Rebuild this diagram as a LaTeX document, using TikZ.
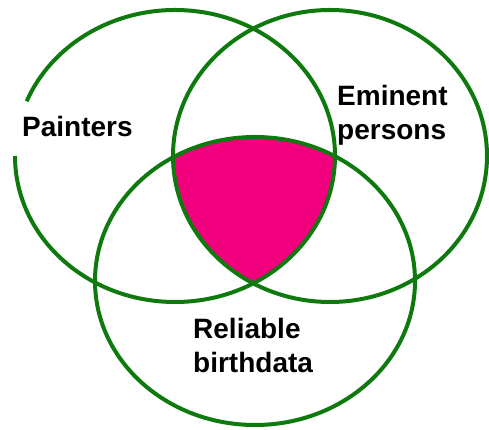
\documentclass[tikz,border=0pt]{standalone}
\usepackage{fontspec}
\setmainfont{Liberation Sans}
\usepackage{tikz}
\definecolor{venngreen}{RGB}{14,122,14}
\definecolor{vennpink}{RGB}{240,0,125}

\begin{document}
\begin{tikzpicture}[x=1pt, y=1pt,
  set/.style={draw=venngreen, line width=4pt},
  setlabel/.style={font=\bfseries\fontsize{28}{34}\selectfont, inner sep=0pt, align=left}]
\useasboundingbox (0,0) rectangle (489,430);
% Fill only where all three sets meet
\begin{scope}
  \clip (175,274) ellipse [x radius=160, y radius=146];
  \clip (330,274) ellipse [x radius=157, y radius=146];
  \fill[vennpink] (255,149) ellipse [x radius=160, y radius=144];
\end{scope}
% Draw the sets on top so borders show over fill
\draw[set] (15,274) arc[start angle=180, end angle=518, x radius=160, y radius=146];
\draw[set] (330,274) ellipse [x radius=157, y radius=146];
\draw[set] (255,149) ellipse [x radius=160, y radius=144];

\node[setlabel, anchor=base west] (painters) at (22,293) {Painters};
\node[setlabel, anchor=north west] (eminent) at (337,345) {Eminent\\persons};
\node[setlabel, anchor=north west] (reliable) at (193,112) {Reliable\\birthdata};
\end{tikzpicture}
\end{document}
